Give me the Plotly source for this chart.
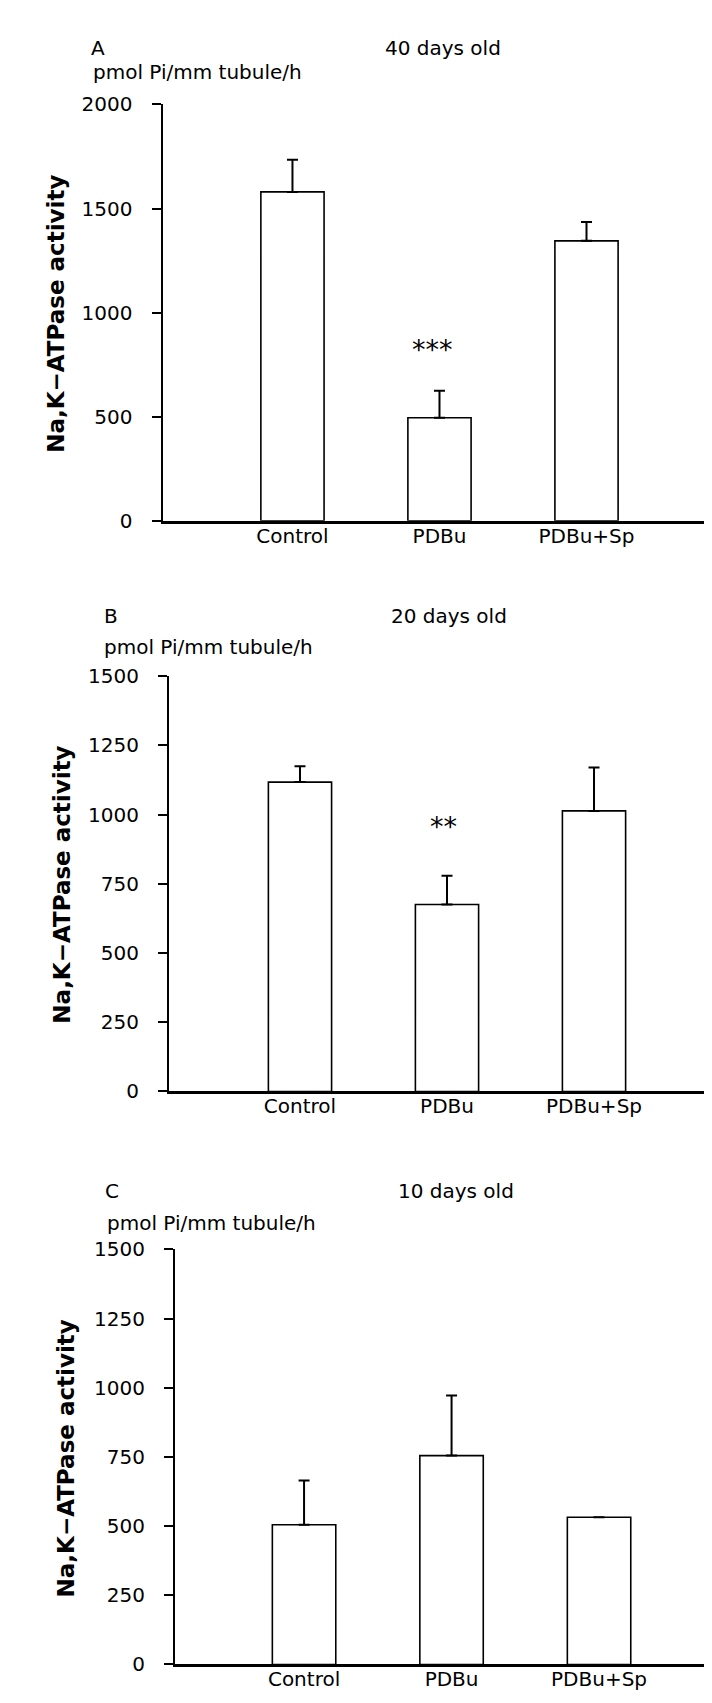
import plotly.graph_objects as go

# ---------------- data ----------------
categories = ["Control", "PDBu", "PDBu+Sp"]
panel_letters = ["A", "B", "C"]
ages = ["40 days old", "20 days old", "10 days old"]
unit_label = "pmol Pi/mm tubule/h"
y_title = "Na,K\u2212ATPase activity"

mean_40 = [1580, 495, 1345]
sem_40 = [155, 130, 90]
mean_20 = [1117, 675, 1013]
sem_20 = [57, 104, 157]
mean_10 = [505, 755, 532]
sem_10 = [160, 217, 0]

ticks_40 = [0, 500, 1000, 1500, 2000]
ticks_20 = [0, 250, 500, 750, 1000, 1250, 1500]
ticks_10 = [0, 250, 500, 750, 1000, 1250, 1500]

sig_40 = ["", "***", ""]
sig_y_40 = [None, 786, None]
sig_20 = ["", "**", ""]
sig_y_20 = [None, 927, None]

# ---------------- layout geometry (pixels) ----------------
W, H = 712, 1703
FONT = "DejaVu Sans"
FS = 20

panels = [
    dict(mean=mean_40, sem=sem_40, ticks=ticks_40, sig=sig_40, sig_y=sig_y_40, sig_dx=-7,
         ax_x=154.5, x_right=707, xr=[-0.884, 2.874], y0=508, ytop=85.7,
         letter_xy=(81, 28), age_x=435, unit_xy=(83, 53), title_xy=(48, 298)),
    dict(mean=mean_20, sem=sem_20, ticks=ticks_20, sig=sig_20, sig_y=sig_y_20, sig_dx=-4,
         ax_x=161, x_right=712, xr=[-0.891, 2.857], y0=1086.8, ytop=665.4,
         letter_xy=(94, 605), age_x=441, unit_xy=(94, 636), title_xy=(54, 877)),
    dict(mean=mean_10, sem=sem_10, ticks=ticks_10, sig=["", "", ""], sig_y=[None, None, None], sig_dx=0,
         ax_x=167, x_right=712, xr=[-0.875, 2.82], y0=1668, ytop=1247,
         letter_xy=(95, 1188), age_x=448, unit_xy=(97, 1220), title_xy=(58, 1459)),
]

fig = go.Figure()
annotations = []

for i, p in enumerate(panels):
    n = "" if i == 0 else str(i + 1)
    xa, ya = "x" + n, "y" + n
    fig.add_trace(go.Bar(
        x=categories, y=p["mean"], xaxis=xa, yaxis=ya,
        width=0.43,
        marker=dict(color="white", line=dict(color="black", width=1.6)),
        error_y=dict(type="data", symmetric=False, array=p["sem"],
                     arrayminus=[0] * len(p["sem"]),
                     color="black", thickness=2, width=5.5),
        showlegend=False, hoverinfo="skip",
    ))
    xdom = [p["ax_x"] / W, min(p["x_right"] / W, 1.0)]
    ydom = [1 - p["y0"] / H, 1 - p["ytop"] / H]
    fig.layout["xaxis" + n] = dict(
        domain=xdom, range=p["xr"], anchor=ya, type="category",
        categoryorder="array", categoryarray=categories,
        showline=True, linecolor="black", linewidth=2.5,
        ticks="", showgrid=False, zeroline=False,
        tickfont=dict(family=FONT, size=FS, color="black"),
        ticklabelstandoff=-5,
    )
    fig.layout["yaxis" + n] = dict(
        domain=ydom, range=[0, p["ticks"][-1]], anchor=xa,
        tickmode="array", tickvals=p["ticks"],
        showline=True, linecolor="black", linewidth=2,
        ticks="outside", ticklen=9, tickwidth=1.5, tickcolor="black",
        showgrid=False, zeroline=False,
        tickfont=dict(family=FONT, size=FS, color="black"),
        ticklabelstandoff=15,
    )
    # significance marks
    for c, s, sy in zip(categories, p["sig"], p["sig_y"]):
        if s:
            annotations.append(dict(x=c, y=sy, xref=xa, yref=ya, text=s,
                                    showarrow=False, xshift=p["sig_dx"], yshift=8,
                                    font=dict(family=FONT, size=27, color="black")))
    # panel letter, age title, unit label, y title
    lx, ly = p["letter_xy"]
    annotations.append(dict(x=lx / W, y=1 - ly / H, xref="paper", yref="paper",
                            text=panel_letters[i], showarrow=False, xanchor="left",
                            yanchor="middle", font=dict(family=FONT, size=FS, color="black")))
    annotations.append(dict(x=p["age_x"] / W, y=1 - ly / H, xref="paper", yref="paper",
                            text=ages[i], showarrow=False, xanchor="center",
                            yanchor="middle", font=dict(family=FONT, size=FS, color="black")))
    ux, uy = p["unit_xy"]
    annotations.append(dict(x=ux / W, y=1 - uy / H, xref="paper", yref="paper",
                            text=unit_label, showarrow=False, xanchor="left",
                            yanchor="middle", font=dict(family=FONT, size=FS, color="black")))
    tx, ty = p["title_xy"]
    annotations.append(dict(x=tx / W, y=1 - ty / H, xref="paper", yref="paper",
                            text="<b>" + y_title + "</b>", textangle=-90, showarrow=False,
                            xanchor="center", yanchor="middle",
                            font=dict(family=FONT, size=23, color="black")))

fig.update_layout(
    width=W, height=H,
    margin=dict(l=0, r=0, t=0, b=0),
    paper_bgcolor="white", plot_bgcolor="white",
    annotations=annotations,
    showlegend=False,
)

fig.write_html("out.html")
